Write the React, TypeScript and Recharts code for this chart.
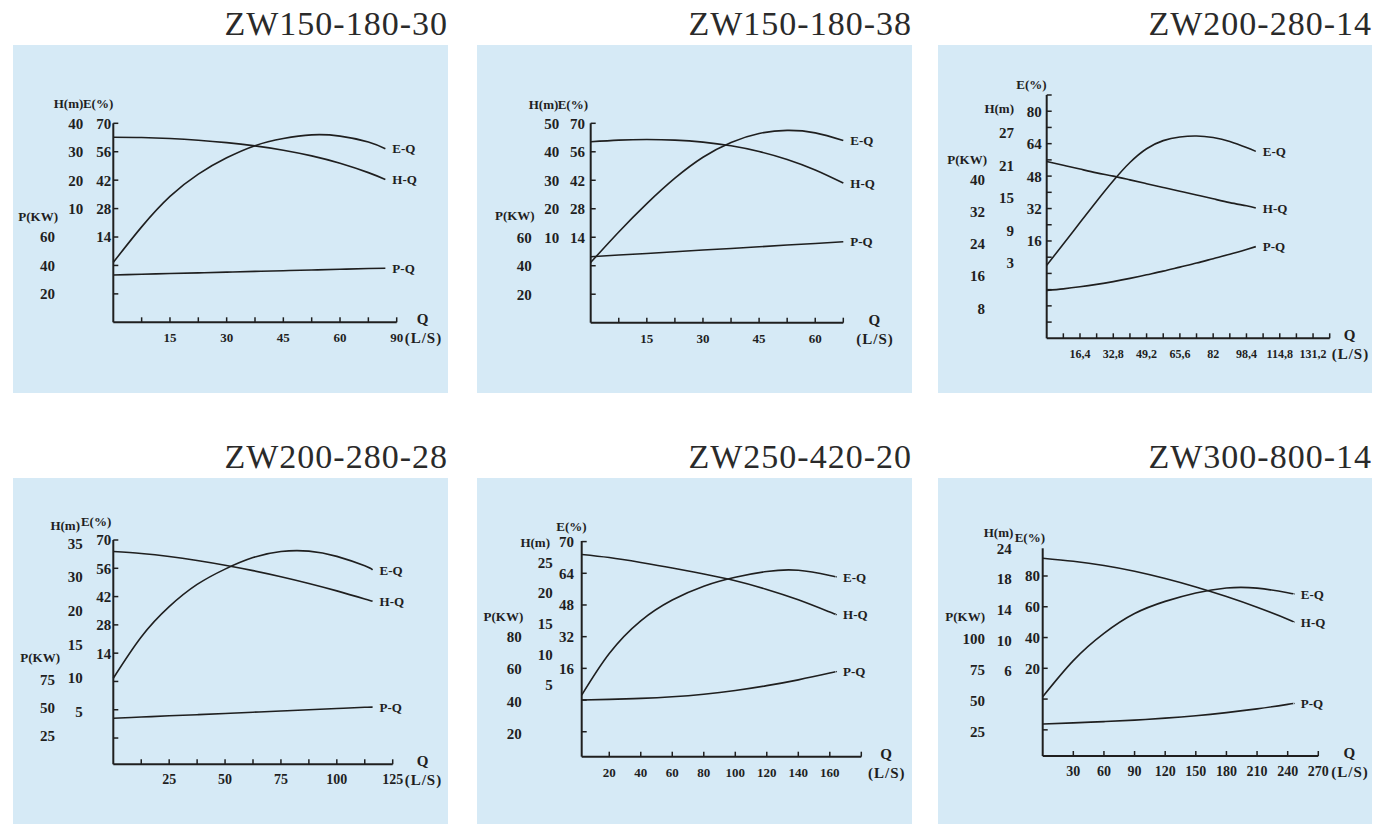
import { LineChart, Line, XAxis, YAxis } from 'recharts';

const FONT = '"Liberation Serif", "Times New Roman", serif';
const INK = '#1f1f1f';
const PANEL_BG = '#d6eaf6';
const X_AXIS_H = 30;

// ZW150-180-30
const q1 = [0, 7.5, 15, 22.5, 30, 37.5, 45, 52.5, 60, 67.5, 72];
const e1 = [1.5, 19, 34, 45, 53, 59, 62.5, 64.3, 63.7, 60.8, 57.5];
const h1 = [35.1, 35, 34.65, 34.05, 33.2, 32.05, 30.55, 28.55, 25.95, 22.65, 20.25];
const p1 = [33.3, 33.8, 34.3, 34.8, 35.3, 35.8, 36.3, 36.8, 37.3, 37.8, 38];
const qTicks1 = [7.5, 15, 22.5, 30, 37.5, 45, 52.5, 60, 67.5, 75];
const qLabels1 = ['', '15', '', '30', '', '45', '', '60', '', '90'];
const eTicks1 = [-14, 0, 14, 28, 42, 56, 70];
const eLabels1 = ['', '', '14', '28', '42', '56', '70'];
const hTicks1 = [10, 20, 30, 40];
const pTicks1 = [20, 40, 60];

// ZW150-180-38
const q2 = [0, 7.5, 15, 22.5, 30, 37.5, 45, 52.5, 60, 67.5];
const e2 = [1.6, 16.6, 30.5, 43, 53.3, 60.6, 65, 66.5, 65.3, 61.5];
const h2 = [43.5, 44.1, 44.3, 44.1, 43.4, 42.1, 40.1, 37.3, 33.6, 29];
const p2 = [46.3, 47.5, 48.6, 49.8, 51, 52.1, 53.3, 54.5, 55.6, 56.8];
const qTicks2 = [7.5, 15, 22.5, 30, 37.5, 45, 52.5, 60, 67.5];
const qLabels2 = ['', '15', '', '30', '', '45', '', '60', ''];
const eTicks2 = [-14, 0, 14, 28, 42, 56, 70];
const eLabels2 = ['', '', '14', '28', '42', '56', '70'];
const hTicks2 = [10, 20, 30, 40, 50];
const pTicks2 = [20, 40, 60];

// ZW200-280-14
const q3 = [0, 8.2, 16.4, 24.6, 32.8, 41, 49.2, 57.4, 65.6, 73.8, 82, 90.2, 98.4, 103];
const e3 = [4, 14.5, 25.1, 35.6, 45.7, 54.7, 61.5, 65.5, 67.3, 67.8, 67, 65.1, 62.1, 60.2];
const h3 = [21.7, 21, 20.3, 19.6, 19, 18.3, 17.6, 16.9, 16.2, 15.5, 14.8, 14.1, 13.5, 13.1];
const p3 = [12.4, 12.8, 13.3, 13.9, 14.6, 15.4, 16.3, 17.2, 18.2, 19.2, 20.3, 21.4, 22.6, 23.3];
const qTicks3 = [8.2, 16.4, 24.6, 32.8, 41, 49.2, 57.4, 65.6, 73.8, 82, 90.2, 98.4, 106.6, 114.8, 123, 131.2, 139.4];
const qLabels3 = ['', '16,4', '', '32,8', '', '49,2', '', '65,6', '', '82', '', '98,4', '', '114,8', '', '131,2', ''];
const eTicks3 = [-24, -16, -8, 0, 8, 16, 24, 32, 40, 48, 56, 64, 72, 80, 88];
const eLabels3 = ['', '', '', '', '', '16', '', '32', '', '48', '', '64', '', '80', ''];
const hTicks3 = [3, 9, 15, 21, 27];
const pTicks3 = [8, 16, 24, 32, 40];

// ZW200-280-28
const q4 = [0, 12.5, 25, 37.5, 50, 62.5, 75, 87.5, 100, 112.5, 116];
const e4 = [1.6, 22, 37, 48, 55.6, 61.3, 64.3, 64.5, 61.9, 57.2, 55.2];
const h4 = [33.8, 33.5, 33.05, 32.45, 31.75, 30.95, 30.05, 29.05, 27.95, 26.75, 26.4];
const p4 = [40.6, 41.7, 42.8, 43.8, 44.9, 46, 47, 48.1, 49.2, 50.3, 50.5];
const qTicks4 = [12.5, 25, 37.5, 50, 62.5, 75, 87.5, 100, 112.5, 125];
const qLabels4 = ['', '25', '', '50', '', '75', '', '100', '', '125'];
const eTicks4 = [-28, -14, 0, 14, 28, 42, 56, 70];
const eLabels4 = ['', '', '', '14', '28', '42', '56', '70'];
const hTicks4 = [10, 15, 20, 25, 30, 35];
const hLabels4 = ['5', '10', '15', '20', '30', '35'];
const pTicks4 = [25, 50, 75];

// ZW250-420-20
const q5 = [2.5, 20, 40, 60, 80, 100, 120, 140, 160, 164];
const e5 = [2.5, 23.5, 40, 50.5, 57.5, 62, 64.9, 65.5, 62.9, 62.2];
const h5 = [26.3, 25.8, 25, 24.1, 23.1, 22, 20.6, 18.9, 16.9, 16.5];
const p5 = [40.7, 41.1, 41.7, 42.7, 44.3, 46.6, 49.6, 53.2, 57.4, 58.3];
const qTicks5 = [20, 40, 60, 80, 100, 120, 140, 160, 180];
const qLabels5 = ['20', '40', '60', '80', '100', '120', '140', '160', ''];
const eTicks5 = [-16, 0, 16, 32, 48, 64, 80];
const eLabels5 = ['', '', '16', '32', '48', '64', '70'];
const hTicks5 = [5, 10, 15, 20, 25];
const pTicks5 = [20, 40, 60, 80];

// ZW300-800-14
const q6 = [0, 30, 60, 90, 120, 150, 180, 210, 240, 246];
const e6 = [1.5, 25, 42.7, 55.6, 63.5, 69, 72.2, 72.1, 69.1, 68.3];
const h6 = [20.7, 20.3, 19.75, 19, 18.05, 16.95, 15.7, 14.3, 12.75, 12.35];
const p6 = [30.8, 31.7, 32.7, 33.9, 35.5, 37.5, 40, 43, 46.6, 47.4];
const qTicks6 = [30, 60, 90, 120, 150, 180, 210, 240, 270];
const qLabels6 = ['30', '60', '90', '120', '150', '180', '210', '240', '270'];
const eTicks6 = [-20, 0, 20, 40, 60, 80];
const eLabels6 = ['', '', '20', '40', '60', '80'];
const hTicks6 = [6, 10, 14, 18, 22];
const hLabels6 = ['6', '10', '14', '18', '24'];
const pTicks6 = [25, 50, 75, 100];

const panels = [
  {
    title: 'ZW150-180-30',
    box: { left: 13, top: 45, width: 435, height: 348 },
    plot: { x: 113.3, top: 123.3, right: 396.7, bottom: 322.3 },
    eGap: 2, hRight: 83.3, pRight: 55, unitDx: 8, qFont: 13,
    q: q1, e: e1, h: h1, p: p1,
    qDomain: [0, 75], qTicks: qTicks1, qLabels: qLabels1,
    eDomain: [-28, 70], eTicks: eTicks1, eLabels: eLabels1, eTitle: { text: 'E(%)', dx: 2, dy: -20 },
    hDomain: [-30, 40], hTicks: hTicks1, hLabels: undefined, hTitle: { text: 'H(m)', dx: 0, dy: -20 },
    pDomain: [0, 140], pTicks: pTicks1, pTitle: { text: 'P(KW)', dx: 3, dy: -21 },
  },
  {
    title: 'ZW150-180-38',
    box: { left: 477, top: 45, width: 435, height: 348 },
    plot: { x: 590.7, top: 123.3, right: 843.3, bottom: 322.7 },
    eGap: 5.7, hRight: 559.3, pRight: 531.7, unitDx: 13, qFont: 13,
    q: q2, e: e2, h: h2, p: p2,
    qDomain: [0, 67.5], qTicks: qTicks2, qLabels: qLabels2,
    eDomain: [-28, 70], eTicks: eTicks2, eLabels: eLabels2, eTitle: { text: 'E(%)', dx: 3, dy: -18.5 },
    hDomain: [-20, 50], hTicks: hTicks2, hLabels: undefined, hTitle: { text: 'H(m)', dx: -1, dy: -18.5 },
    pDomain: [0, 140], pTicks: pTicks2, pTitle: { text: 'P(KW)', dx: 3, dy: -21.7 },
  },
  {
    title: 'ZW200-280-14',
    box: { left: 938, top: 45, width: 434, height: 348 },
    plot: { x: 1046.7, top: 95, right: 1329.7, bottom: 338.3 },
    eGap: 5, hRight: 1014, pRight: 985, unitDx: 2, qFont: 12,
    q: q3, e: e3, h: h3, p: p3,
    qDomain: [0, 139.4], qTicks: qTicks3, qLabels: qLabels3,
    eDomain: [-32, 88], eTicks: eTicks3, eLabels: eLabels3, eTitle: { text: 'E(%)', dx: 5, dy: -26.6 },
    hDomain: [-11, 34], hTicks: hTicks3, hLabels: undefined, hTitle: { text: 'H(m)', dx: 0, dy: -25 },
    pDomain: [0.5, 61], pTicks: pTicks3, pTitle: { text: 'P(KW)', dx: 2, dy: -20 },
  },
  {
    title: 'ZW200-280-28',
    box: { left: 13, top: 478, width: 435, height: 346 },
    plot: { x: 113.3, top: 540, right: 392.7, bottom: 764.3 },
    eGap: 2, hRight: 82.7, pRight: 55, unitDx: 12, qFont: 14,
    q: q4, e: e4, h: h4, p: p4,
    qDomain: [0, 125], qTicks: qTicks4, qLabels: qLabels4,
    eDomain: [-41, 70], eTicks: eTicks4, eLabels: eLabels4, eTitle: { text: 'E(%)', dx: 0, dy: -18.4 },
    hDomain: [2.2, 35.5], hTicks: hTicks4, hLabels: hLabels4, hTitle: { text: 'H(m)', dx: -2.7, dy: -18.4 },
    pDomain: [0, 198], pTicks: pTicks4, pTitle: { text: 'P(KW)', dx: 5, dy: -21.7 },
  },
  {
    title: 'ZW250-420-20',
    box: { left: 477, top: 478, width: 435, height: 346 },
    plot: { x: 581.7, top: 541, right: 861.3, bottom: 756.7 },
    eGap: 7.7, hRight: 552.7, pRight: 521.7, unitDx: 6.7, qFont: 13,
    q: q5, e: e5, h: h5, p: p5,
    qDomain: [2.5, 180], qTicks: qTicks5, qLabels: qLabels5,
    eDomain: [-28.6, 80.3], eTicks: eTicks5, eLabels: eLabels5, eTitle: { text: 'E(%)', dx: 12.7, dy: -15 },
    hDomain: [-6.7, 28.5], hTicks: hTicks5, hLabels: undefined, hTitle: { text: 'H(m)', dx: -2.7, dy: -20 },
    pDomain: [5.5, 139.4], pTicks: pTicks5, pTitle: { text: 'P(KW)', dx: 1.6, dy: -20 },
  },
  {
    title: 'ZW300-800-14',
    box: { left: 938, top: 478, width: 434, height: 346 },
    plot: { x: 1042.7, top: 548.3, right: 1318.3, bottom: 756 },
    eGap: 2.7, hRight: 1011.7, pRight: 985, unitDx: 13, qFont: 14,
    q: q6, e: e6, h: h6, p: p6,
    qDomain: [0, 270], qTicks: qTicks6, qLabels: qLabels6,
    eDomain: [-37, 98], eTicks: eTicks6, eLabels: eLabels6, eTitle: { text: 'E(%)', dx: 5, dy: -38.3 },
    hDomain: [-5.1, 22], hTicks: hTicks6, hLabels: hLabels6, hTitle: { text: 'H(m)', dx: 1.6, dy: -16.3 },
    pDomain: [4.9, 172.8], pTicks: pTicks6, pTitle: { text: 'P(KW)', dx: 0, dy: -21.7 },
  },
];

const labelOf = (ticks: number[], labels: string[] | undefined, v: number) => {
  const i = ticks.indexOf(v);
  if (i < 0) return '';
  return labels ? labels[i] : String(v);
};

const topLabeled = (ticks: number[], labels?: string[]) => {
  let best = -Infinity;
  ticks.forEach((t, i) => {
    const l = labels ? labels[i] : String(t);
    if (l && t > best) best = t;
  });
  return best;
};

const textProps = { fontFamily: FONT, fontWeight: 'bold', fill: INK };

function makeYTick(ticks: number[], labels: string[] | undefined, title: any, marks: boolean, gap: number) {
  const top = topLabeled(ticks, labels);
  return (props: any) => {
    const { x, y, payload } = props;
    const v = payload.value;
    const label = labelOf(ticks, labels, v);
    return (
      <g>
        {marks && <line x1={x + gap} x2={x + gap + 5} y1={y} y2={y} stroke={INK} strokeWidth={1.5} />}
        {label && (
          <text x={x} y={y} dy="0.36em" textAnchor="end" fontSize={15} {...textProps}>
            {label}
          </text>
        )}
        {title && v === top && (
          <text x={x + title.dx} y={y + title.dy} dy="0.36em" textAnchor="end" fontSize={13} {...textProps}>
            {title.text}
          </text>
        )}
      </g>
    );
  };
}

function makeXTick(ticks: number[], labels: string[], fontSize: number, unitDx: number) {
  const end = ticks[ticks.length - 1];
  return (props: any) => {
    const { x, y, payload } = props;
    const v = payload.value;
    const label = labelOf(ticks, labels, v);
    return (
      <g>
        <line x1={x} x2={x} y1={y} y2={y - 5} stroke={INK} strokeWidth={1.5} />
        {label && (
          <text x={x} y={y + 20} textAnchor="middle" fontSize={fontSize} {...textProps}>
            {label}
          </text>
        )}
        {v === end && (
          <g>
            <text x={x + unitDx + 18} y={y + 2} textAnchor="middle" fontSize={15} {...textProps}>
              Q
            </text>
            <text x={x + unitDx} y={y + 21} textAnchor="start" fontSize={15} letterSpacing={1} {...textProps}>
              (L/S)
            </text>
          </g>
        )}
      </g>
    );
  };
}

const endLabel = (text: string, last: number) => (props: any) => {
  if (props.index !== last) return <g key={`d-${props.index}`} />;
  return (
    <text key="end" x={props.cx + 7} y={props.cy} dy="0.36em" fontSize={13} {...textProps}>
      {text}
    </text>
  );
};

function Panel({ cfg }: { cfg: any }) {
  const { box, plot } = cfg;
  const rows = cfg.q.map((q: number, i: number) => ({ q, e: cfg.e[i], h: cfg.h[i], p: cfg.p[i] }));
  const last = rows.length - 1;
  const wE = plot.x - cfg.hRight;
  const wH = cfg.hRight - cfg.pRight;
  const wP = cfg.pRight - box.left;
  const margin = {
    left: 0,
    top: plot.top - box.top,
    right: box.left + box.width - plot.right,
    bottom: box.top + box.height - plot.bottom - X_AXIS_H,
  };
  const lineProps = { type: 'natural' as const, stroke: INK, strokeWidth: 1.6, isAnimationActive: false, activeDot: false };

  return (
    <>
      <div
        style={{
          position: 'absolute',
          left: box.left,
          top: box.top - 38.5,
          width: box.width,
          textAlign: 'right',
          fontFamily: FONT,
          fontSize: 34,
          lineHeight: '34px',
          letterSpacing: 1,
          color: '#2a2a2a',
        }}
      >
        {cfg.title}
      </div>
      <div
        style={{
          position: 'absolute',
          left: box.left,
          top: box.top,
          width: box.width,
          height: box.height,
          background: PANEL_BG,
        }}
      >
        <LineChart width={box.width} height={box.height} data={rows} margin={margin}>
          <XAxis
            dataKey="q"
            type="number"
            domain={cfg.qDomain}
            ticks={cfg.qTicks}
            interval={0}
            tickSize={0}
            tickMargin={0}
            tickLine={false}
            height={X_AXIS_H}
            axisLine={{ stroke: INK, strokeWidth: 2 }}
            tick={makeXTick(cfg.qTicks, cfg.qLabels, cfg.qFont, cfg.unitDx)}
          />
          <YAxis
            yAxisId="e"
            type="number"
            width={wE}
            domain={cfg.eDomain}
            ticks={cfg.eTicks}
            interval={0}
            tickSize={0}
            tickMargin={cfg.eGap}
            tickLine={false}
            axisLine={{ stroke: INK, strokeWidth: 2 }}
            tick={makeYTick(cfg.eTicks, cfg.eLabels, cfg.eTitle, true, cfg.eGap)}
          />
          <YAxis
            yAxisId="h"
            type="number"
            width={wH}
            domain={cfg.hDomain}
            ticks={cfg.hTicks}
            interval={0}
            tickSize={0}
            tickMargin={0}
            tickLine={false}
            axisLine={false}
            tick={makeYTick(cfg.hTicks, cfg.hLabels, cfg.hTitle, false, 0)}
          />
          <YAxis
            yAxisId="p"
            type="number"
            width={wP}
            domain={cfg.pDomain}
            ticks={cfg.pTicks}
            interval={0}
            tickSize={0}
            tickMargin={0}
            tickLine={false}
            axisLine={false}
            tick={makeYTick(cfg.pTicks, undefined, cfg.pTitle, false, 0)}
          />
          <Line yAxisId="e" dataKey="e" {...lineProps} dot={endLabel('E-Q', last)} />
          <Line yAxisId="h" dataKey="h" {...lineProps} dot={endLabel('H-Q', last)} />
          <Line yAxisId="p" dataKey="p" {...lineProps} dot={endLabel('P-Q', last)} />
        </LineChart>
      </div>
    </>
  );
}

export default function App() {
  return (
    <div
      style={{
        position: 'absolute',
        left: 0,
        top: 0,
        width: 1376,
        height: 824,
        background: '#ffffff',
        overflow: 'hidden',
        fontFamily: FONT,
      }}
    >
      {panels.map(cfg => (
        <Panel key={cfg.title} cfg={cfg} />
      ))}
    </div>
  );
}
